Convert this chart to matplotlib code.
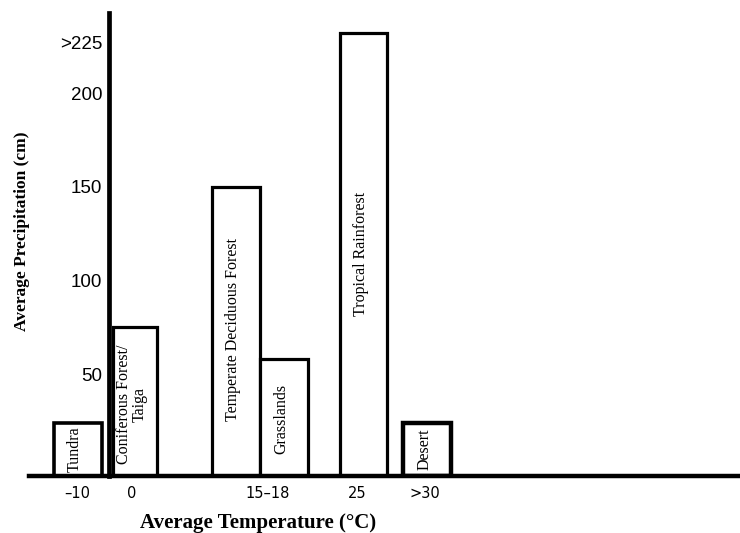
import numpy as np
import matplotlib
matplotlib.use('Agg')
import matplotlib.pyplot as plt

# biomes, precipitation (cm)
biomes = ['Tundra', 'Coniferous Forest/\nTaiga', 'Temperate Deciduous Forest',
          'Grasslands', 'Tropical Rainforest', 'Desert']
precip = [24, 75, 150, 58, 232, 24]

# temperature tick labels
temp_labels = ['\u201310', '0', '15\u201318', '25', '>30']
precip_ticks = [50, 100, 150, 200, 227]
precip_labels = ['50', '100', '150', '200', '>225']

# layout (bar slots in bar-width units, y axis at 0)
bar_x = np.array([-0.656, 0.536, 2.646, 3.646, 5.31, 6.625])
bar_w = [1.0, 0.92, 1.0, 1.0, 0.98, 0.98]
bar_lw = [2.6, 2.3, 2.3, 2.3, 2.3, 3.2]
label_y = [10, 34, 74, 26, 114, 10]
temp_x = [-0.667, 0.479, 3.31, 5.17, 6.58]
y0 = -4.4

fig = plt.figure(figsize=(7.4, 5.33), dpi=100)
ax = fig.add_axes([29 / 740, (533 - 476) / 533, 711 / 740, (476 - 13) / 533])

heights = np.array(precip) - y0
for x, h, w, lw in zip(bar_x, heights, bar_w, bar_lw):
    ax.bar(x, h, width=w, bottom=y0, facecolor='white', edgecolor='black',
           linewidth=lw, zorder=2)

for x, y, name in zip(bar_x, label_y, biomes):
    ax.text(x - 0.06, y, name, rotation=90, ha='center', va='center',
            family='Liberation Serif', fontsize=11.5, zorder=3,
            multialignment='center', linespacing=1.0)

ax.set_xlim(-1.667, 13.146)
ax.set_ylim(y0, 242.8)

ax.spines['top'].set_visible(False)
ax.spines['right'].set_visible(False)
ax.spines['left'].set_position(('data', 0))
ax.spines['left'].set_linewidth(3.4)
ax.spines['bottom'].set_linewidth(3.2)
ax.spines['left'].set_zorder(4)
ax.spines['bottom'].set_zorder(4)

ax.set_yticks(precip_ticks)
ax.set_yticklabels(precip_labels, family='Liberation Sans', fontsize=13.5)
ax.set_xticks(temp_x)
ax.set_xticklabels(temp_labels, family='DejaVu Sans', fontsize=10.5)
ax.tick_params(axis='y', length=0, pad=5)
ax.tick_params(axis='x', length=0, pad=7)

fig.text(258 / 740, 1 - 523 / 533, 'Average Temperature (\u00b0C)',
         ha='center', va='center', family='Liberation Serif',
         fontweight='bold', fontsize=15)
fig.text(22 / 740, 1 - 231 / 533, 'Average Precipitation (cm)',
         ha='center', va='center', rotation=90, family='Liberation Serif',
         fontweight='bold', fontsize=12.5)

plt.savefig('out.png', dpi=100)
